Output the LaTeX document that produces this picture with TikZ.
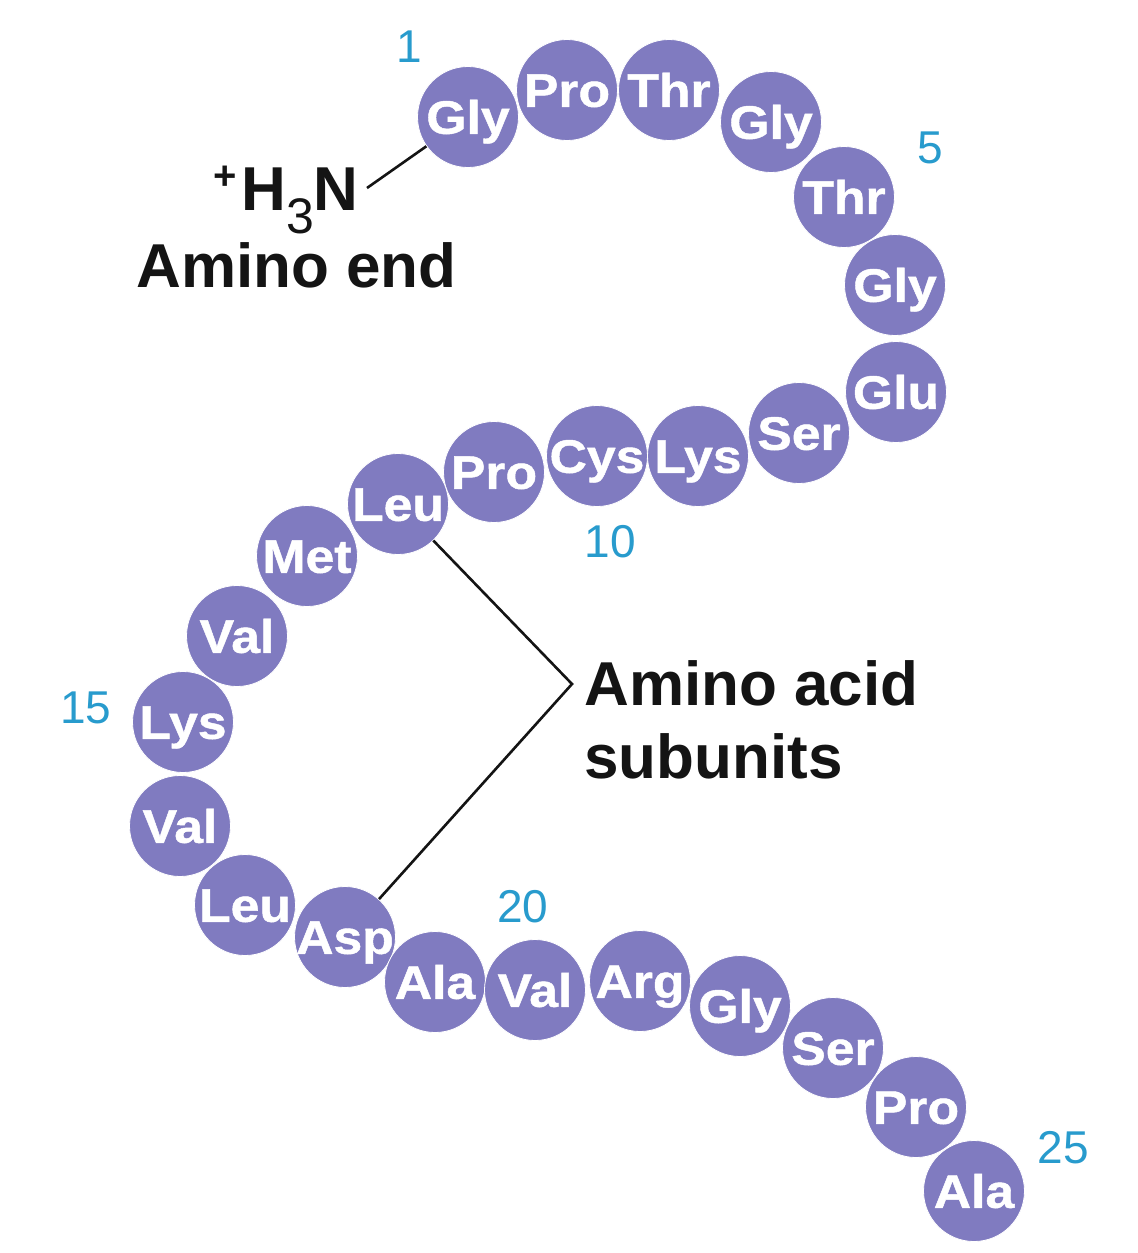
\documentclass[tikz,border=0pt]{standalone}
\usepackage{fontspec}
\setmainfont{Liberation Sans}
\newfontfamily\aafont{Liberation Sans}[FakeStretch=1.1,FakeBold=1]
\definecolor{aacol}{RGB}{128,123,192}
\definecolor{numcol}{RGB}{40,155,205}
\definecolor{ink}{RGB}{20,20,20}
\tikzset{
  aa/.style={circle,fill=aacol,draw=white,line width=0.4pt,minimum size=50.5pt,inner sep=0pt},
  aatext/.style={text=white,inner sep=0pt,text height=16.8pt,text depth=0pt,
    font=\aafont\bfseries\fontsize{23.5pt}{24pt}\selectfont},
  num/.style={text=numcol,inner sep=0pt,font=\fontsize{23pt}{24pt}\selectfont},
  lbl/.style={text=ink,inner sep=0pt,font=\bfseries\fontsize{31pt}{32pt}\selectfont},
  lead/.style={draw=ink,line width=1.3pt}
}
\begin{document}
\begin{tikzpicture}[x=0.5pt,y=-0.5pt]
\fill[white] (0,0) rectangle (1137,1253);
\useasboundingbox (0,0) rectangle (1137,1253);
% amino acid circles
\foreach \i/\x/\y in {1/468/117,2/567/90,3/669/90,4/771/122,5/844/197,6/895/285,
  7/896/392,8/799/433,9/698/456,10/597/456,11/494/472,12/398/504,13/307/556,
  14/237/636,15/183/722,16/180/826,17/245/905,18/345/937,19/435/982,20/535/990,
  21/640/981,22/740/1006,23/833/1048,24/916/1107,25/974/1191}
  \node[aa] (a\i) at (\x,\y) {};
% residue names
\foreach \i/\t in {1/Gly,2/Pro,3/Thr,4/Gly,5/Thr,6/Gly,7/Glu,8/Ser,9/Lys,10/Cys,
  11/Pro,12/Leu,13/Met,14/Val,15/Lys,16/Val,17/Leu,18/Asp,19/Ala,20/Val,
  21/Arg,22/Gly,23/Ser,24/Pro,25/Ala}
  \node[aatext] (t\i) at (a\i) {\t};
% position numbers
\node[num] (n1) at (409,47) {1};
\node[num] (n5) at (930,148) {5};
\node[num] (n10) at (610,542) {10};
\node[num] (n15) at (86,708) {15};
\node[num] (n20) at (523,907) {20};
\node[num] (n25) at (1063,1148) {25};
% amino end
\node[lbl,anchor=base east,text depth=0pt] (h3n) at (359,210)
  {\raisebox{10.3pt}{\fontsize{20pt}{20pt}\selectfont +}\kern2pt H\smash{\raisebox{-11.5pt}{\mdseries\fontsize{25pt}{25pt}\selectfont 3}}N};
\coordinate (h3nend) at (367,188);
\draw[lead] (h3nend) -- (a1);
\node[lbl,anchor=base west] (aend) at (136,287) {Amino end};
% amino acid subunits
\node[lbl,anchor=base west] (sub1) at (584,705) {Amino acid};
\node[lbl,anchor=base west] (sub2) at (584,778) {subunits};
\coordinate (vtx) at (572,684);
\draw[lead,line join=miter] (a12) -- (vtx) -- (a18);
\end{tikzpicture}
\end{document}
